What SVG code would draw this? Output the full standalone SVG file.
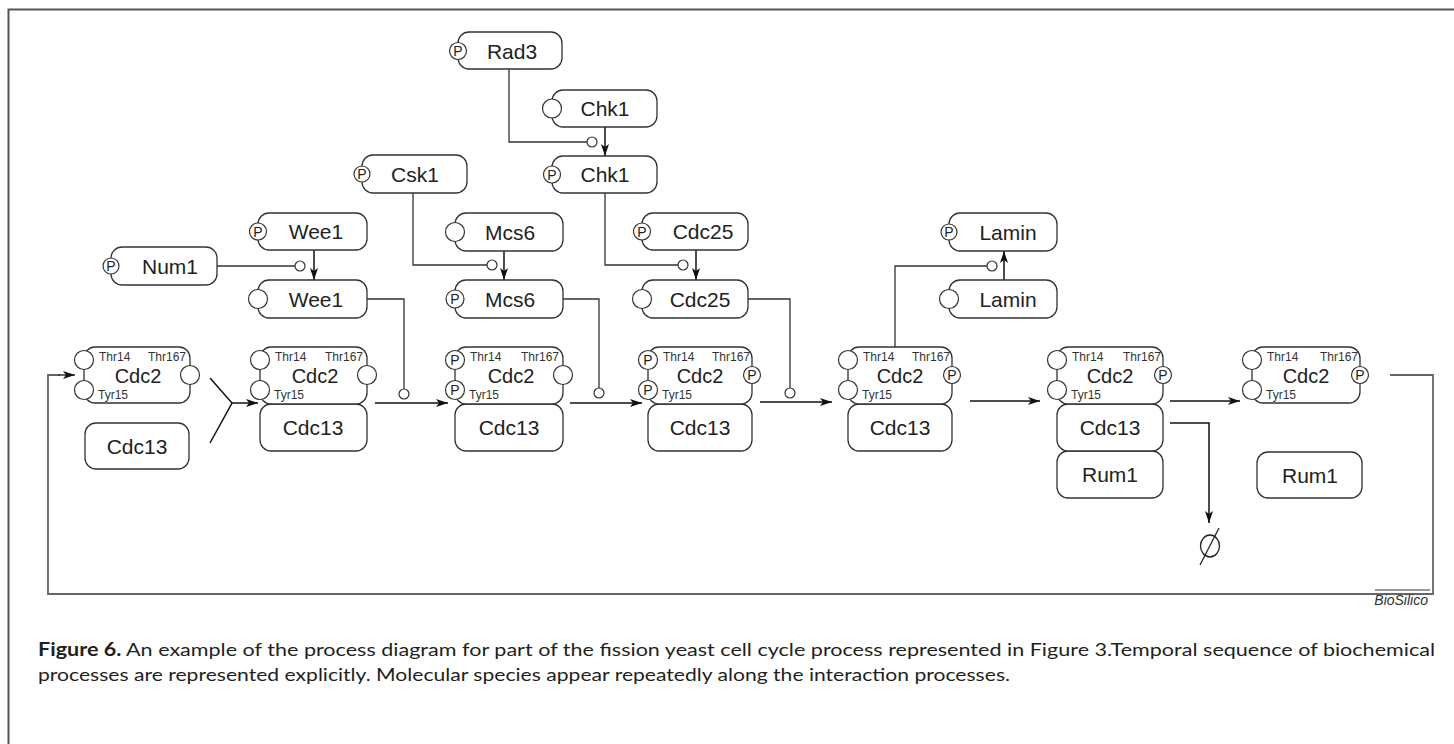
<svg xmlns="http://www.w3.org/2000/svg" width="1454" height="744" viewBox="0 0 1454 744">
<style>
.box{fill:#fff;stroke:#333;stroke-width:1.3}
.st{fill:#fff;stroke:#333;stroke-width:1.2}
.t{font-family:"Liberation Sans",Arial,sans-serif;font-size:21px;fill:#222;text-anchor:middle}
.c2{font-family:"Liberation Sans",Arial,sans-serif;font-size:20px;fill:#222;text-anchor:middle}
.p{font-family:"Liberation Sans",Arial,sans-serif;font-size:14px;fill:#222;text-anchor:middle}
.s{font-family:"Liberation Sans",Arial,sans-serif;font-size:12px;fill:#333}
.ln{fill:none;stroke:#333;stroke-width:1.3}
.ar{fill:none;stroke:#111;stroke-width:1.5;marker-end:url(#ah)}
.cat{fill:#fff;stroke:#333;stroke-width:1.2}
.cap{font-family:Lato,"Open Sans",sans-serif;font-size:18px;fill:#231f20}
</style>
<defs>
<marker id="ah" viewBox="0 0 12 8" refX="12" refY="4" markerWidth="12" markerHeight="8" markerUnits="userSpaceOnUse" orient="auto">
<path d="M0,0 L12,4 L0,8 L3,4 Z" fill="#111"/>
</marker>
</defs>
<rect width="1454" height="744" fill="#fff"/>
<path d="M8.5,744 V9.5 H1454" fill="none" stroke="#555" stroke-width="2"/>

<g id="connectors">
<path class="ln" d="M509,69 V142 H587"/><circle class="cat" cx="592" cy="142" r="5"/>
<path class="ar" d="M605,127 V156"/>
<path class="ln" d="M605,193 V265 H678"/><circle class="cat" cx="683" cy="265" r="5"/>
<path class="ar" d="M696,250 V280"/>
<path class="ln" d="M413,193 V265 H487"/><circle class="cat" cx="492" cy="265" r="5"/>
<path class="ar" d="M504,251 V280"/>
<path class="ln" d="M217,266 H295"/><circle class="cat" cx="300" cy="266" r="5"/>
<path class="ar" d="M314,250 V280"/>
<path class="ln" d="M367,299 H404 V389"/><circle class="cat" cx="404" cy="394" r="5"/>
<path class="ln" d="M563,299 H599 V388"/><circle class="cat" cx="599" cy="393" r="5"/>
<path class="ln" d="M748,299 H790 V388"/><circle class="cat" cx="790" cy="393" r="5"/>
<path class="ln" d="M895,347 V266 H987"/><circle class="cat" cx="992" cy="266" r="5"/>
<path class="ar" d="M1004,280 V251"/>
<path fill="none" stroke="#111" stroke-width="1.5" d="M210,378 L232,403 L210,443"/>
<path class="ar" d="M232,403 H258"/>
<path class="ar" d="M375,403 H448"/>
<path class="ar" d="M570,403 H642"/>
<path class="ar" d="M760,402 H832"/>
<path class="ar" d="M970,401 H1040"/>
<path class="ar" d="M1170,401 H1240"/>
<path class="ar" d="M1170,423 H1209 V523"/>
<path fill="none" stroke="#666" stroke-width="1.8" d="M1390,375 H1433 V594 H48 V375 H60"/>
<path class="ar" d="M58,375 H75" style="stroke:#333"/>
<ellipse cx="1210" cy="546" rx="9.5" ry="11" fill="none" stroke="#222" stroke-width="1.3"/>
<path d="M1200,565 L1219,528" stroke="#222" stroke-width="1.3"/>
</g>

<g id="rad3"><rect class="box" x="458" y="32" width="104" height="37" rx="11"/><circle class="st" cx="458" cy="51" r="8.5"/><text class="p" x="458" y="56">P</text><text class="t" x="512" y="58.5">Rad3</text></g>
<g id="chk1"><rect class="box" x="552" y="90" width="105" height="37" rx="11"/><circle class="st" cx="552" cy="108.5" r="9.5"/><text class="t" x="605" y="116">Chk1</text></g>
<g id="chk1p"><rect class="box" x="552" y="156" width="105" height="37" rx="11"/><circle class="st" cx="552" cy="174.5" r="8.5"/><text class="p" x="552" y="179.5">P</text><text class="t" x="605" y="182">Chk1</text></g>
<g id="csk1"><rect class="box" x="362" y="155" width="105" height="38" rx="11"/><circle class="st" cx="362" cy="174" r="8"/><text class="p" x="362" y="179">P</text><text class="t" x="415" y="181.5">Csk1</text></g>
<g id="wee1p"><rect class="box" x="258" y="213" width="109" height="37" rx="11"/><circle class="st" cx="258" cy="231.5" r="8.5"/><text class="p" x="258" y="236.5">P</text><text class="t" x="316" y="239">Wee1</text></g>
<g id="mcs6"><rect class="box" x="455" y="213" width="108" height="38" rx="11"/><circle class="st" cx="455" cy="232" r="9.5"/><text class="t" x="510" y="239.5">Mcs6</text></g>
<g id="cdc25p"><rect class="box" x="642" y="213" width="106" height="37" rx="11"/><circle class="st" cx="642" cy="231.5" r="8.5"/><text class="p" x="642" y="236.5">P</text><text class="t" x="703" y="239">Cdc25</text></g>
<g id="laminp"><rect class="box" x="949" y="213" width="108" height="38" rx="11"/><circle class="st" cx="949" cy="232" r="8"/><text class="p" x="949" y="237">P</text><text class="t" x="1008" y="239.5">Lamin</text></g>
<g id="num1"><rect class="box" x="111" y="247" width="106" height="38" rx="11"/><circle class="st" cx="111" cy="266" r="8"/><text class="p" x="111" y="271">P</text><text class="t" x="170" y="273.5">Num1</text></g>
<g id="wee1"><rect class="box" x="258" y="280" width="109" height="38" rx="11"/><circle class="st" cx="258" cy="299" r="9.5"/><text class="t" x="316" y="306.5">Wee1</text></g>
<g id="mcs6p"><rect class="box" x="455" y="280" width="108" height="38" rx="11"/><circle class="st" cx="455" cy="299" r="9"/><text class="p" x="455" y="304">P</text><text class="t" x="510" y="306.5">Mcs6</text></g>
<g id="cdc25"><rect class="box" x="642" y="280" width="106" height="38" rx="11"/><circle class="st" cx="642" cy="299" r="9.5"/><text class="t" x="700" y="306.5">Cdc25</text></g>
<g id="lamin"><rect class="box" x="949" y="280" width="108" height="38" rx="11"/><circle class="st" cx="949" cy="299" r="9.5"/><text class="t" x="1008" y="306.5">Lamin</text></g>

<g id="cdc2-1"><rect class="box" x="84" y="347" width="106" height="56" rx="11"/><circle class="st" cx="84" cy="360" r="9.5"/><circle class="st" cx="84" cy="390" r="9.5"/><circle class="st" cx="190" cy="375" r="9.5"/><text class="s" x="99" y="361">Thr14</text><text class="s" x="186" y="361" text-anchor="end">Thr167</text><text class="c2" x="138" y="383">Cdc2</text><text class="s" x="98" y="399">Tyr15</text></g>
<g id="cdc13-1"><rect class="box" x="85" y="423" width="104" height="46" rx="11"/><text class="t" x="137" y="453.5">Cdc13</text></g>

<g id="complex-2"><rect class="box" x="260" y="404" width="107" height="47" rx="11"/><text class="t" x="313" y="435">Cdc13</text><rect class="box" x="260" y="347" width="107" height="57" rx="11"/><circle class="st" cx="260" cy="360" r="9.5"/><circle class="st" cx="260" cy="390" r="9.5"/><circle class="st" cx="367" cy="375" r="9.5"/><text class="s" x="275" y="361">Thr14</text><text class="s" x="363" y="361" text-anchor="end">Thr167</text><text class="c2" x="315" y="383">Cdc2</text><text class="s" x="274" y="399">Tyr15</text></g>

<g id="complex-3"><rect class="box" x="455" y="404" width="108" height="47" rx="11"/><text class="t" x="509" y="435">Cdc13</text><rect class="box" x="455" y="347" width="108" height="57" rx="11"/><circle class="st" cx="455" cy="360" r="9.5"/><text class="p" x="455" y="365">P</text><circle class="st" cx="455" cy="390" r="9.5"/><text class="p" x="455" y="395">P</text><circle class="st" cx="563" cy="375" r="9.5"/><text class="s" x="470" y="361">Thr14</text><text class="s" x="559" y="361" text-anchor="end">Thr167</text><text class="c2" x="511" y="383">Cdc2</text><text class="s" x="469" y="399">Tyr15</text></g>

<g id="complex-4"><rect class="box" x="648" y="404" width="104" height="47" rx="11"/><text class="t" x="700" y="435">Cdc13</text><rect class="box" x="648" y="347" width="104" height="57" rx="11"/><circle class="st" cx="648" cy="360" r="9.5"/><text class="p" x="648" y="365">P</text><circle class="st" cx="648" cy="390" r="9.5"/><text class="p" x="648" y="395">P</text><circle class="st" cx="752" cy="375" r="8.5"/><text class="p" x="752" y="380">P</text><text class="s" x="663" y="361">Thr14</text><text class="s" x="750" y="361" text-anchor="end">Thr167</text><text class="c2" x="700" y="383">Cdc2</text><text class="s" x="662" y="399">Tyr15</text></g>

<g id="complex-5"><rect class="box" x="848" y="404" width="104" height="47" rx="11"/><text class="t" x="900" y="435">Cdc13</text><rect class="box" x="848" y="347" width="104" height="57" rx="11"/><circle class="st" cx="848" cy="360" r="9.5"/><circle class="st" cx="848" cy="390" r="9.5"/><circle class="st" cx="952" cy="375" r="8.5"/><text class="p" x="952" y="380">P</text><text class="s" x="863" y="361">Thr14</text><text class="s" x="950" y="361" text-anchor="end">Thr167</text><text class="c2" x="900" y="383">Cdc2</text><text class="s" x="862" y="399">Tyr15</text></g>

<g id="complex-6"><rect class="box" x="1057" y="451" width="106" height="47" rx="11"/><text class="t" x="1110" y="482">Rum1</text><rect class="box" x="1057" y="404" width="106" height="47" rx="11"/><text class="t" x="1110" y="435">Cdc13</text><rect class="box" x="1057" y="347" width="106" height="57" rx="11"/><circle class="st" cx="1057" cy="360" r="9.5"/><circle class="st" cx="1057" cy="390" r="9.5"/><circle class="st" cx="1163" cy="375" r="8.5"/><text class="p" x="1163" y="380">P</text><text class="s" x="1072" y="361">Thr14</text><text class="s" x="1161" y="361" text-anchor="end">Thr167</text><text class="c2" x="1110" y="383">Cdc2</text><text class="s" x="1071" y="399">Tyr15</text></g>

<g id="cdc2-7"><rect class="box" x="1252" y="347" width="108" height="56" rx="11"/><circle class="st" cx="1252" cy="360" r="9.5"/><circle class="st" cx="1252" cy="390" r="9.5"/><circle class="st" cx="1360" cy="375" r="8.5"/><text class="p" x="1360" y="380">P</text><text class="s" x="1267" y="361">Thr14</text><text class="s" x="1358" y="361" text-anchor="end">Thr167</text><text class="c2" x="1306" y="383">Cdc2</text><text class="s" x="1266" y="399">Tyr15</text></g>
<g id="rum1-7"><rect class="box" x="1257" y="452" width="105" height="46" rx="11"/><text class="t" x="1310" y="482.5">Rum1</text></g>

<g id="credit"><path d="M1375,590 H1430" stroke="#333" stroke-width="1"/><text x="1428" y="605" text-anchor="end" font-family="'Liberation Sans Narrow','Liberation Sans',sans-serif" font-style="italic" font-size="14" fill="#333">BioSilico</text></g>
<g id="caption">
<text class="cap" x="38" y="656" textLength="1397" lengthAdjust="spacingAndGlyphs"><tspan font-weight="bold">Figure 6.</tspan> An example of the process diagram for part of the fission yeast cell cycle process represented in Figure 3.Temporal sequence of biochemical</text>
<text class="cap" x="38" y="681" textLength="972" lengthAdjust="spacingAndGlyphs">processes are represented explicitly. Molecular species appear repeatedly along the interaction processes.</text>
</g>
</svg>
